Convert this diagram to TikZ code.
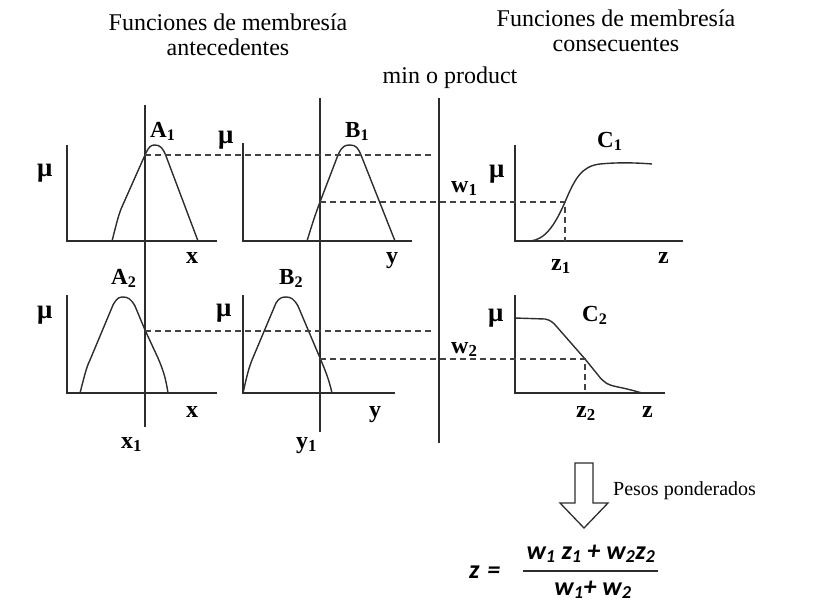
\documentclass[tikz,border=0pt]{standalone}
\usepackage{fontspec}
\setmainfont{Liberation Serif}
\newfontfamily\carl{Carlito}
\definecolor{ln}{RGB}{45,45,45}
\begin{document}
\begin{tikzpicture}[x=1pt,y=-1pt,
  ax/.style={line width=1.4pt, draw=ln},
  crv/.style={line width=1.4pt, draw=ln, line join=round},
  guide/.style={line width=1.4pt, draw=ln},
  dsh/.style={line width=1.3pt, draw=ln!90, dash pattern=on 6pt off 4pt},
  lab/.style={font=\fontsize{23}{25}\selectfont\bfseries, inner sep=0pt, anchor=base west},
  labx/.style={font=\fontsize{24}{26}\selectfont\bfseries, inner sep=0pt, anchor=base west},
  labm/.style={font=\fontsize{27}{29}\selectfont\bfseries, inner sep=0pt, anchor=base west},
  ttl/.style={font=\fontsize{24}{28}\selectfont, inner sep=0pt, anchor=base},
  fm/.style={font=\fontsize{26}{28}\selectfont\carl\bfseries\itshape, inner sep=0pt, anchor=base},
]
\useasboundingbox (0,0) rectangle (821,606);

% titles
\node[ttl] (t1) at (228,30) {Funciones de membresía};
\node[ttl] (t1b) at (228,55) {antecedentes};
\node[ttl] (t2) at (616,26) {Funciones de membresía};
\node[ttl] (t2b) at (616,51) {consecuentes};
\node[ttl] (tmin) at (450,83) {min o product};

% vertical guide lines
\coordinate (x1t) at (145,105); \coordinate (x1b) at (145,427);
\coordinate (y1t) at (320,98);  \coordinate (y1b) at (320,432);
\coordinate (mt) at (439,98);   \coordinate (mb) at (439,443);
\draw[guide] (x1t) -- (x1b);
\draw[guide] (y1t) -- (y1b);
\draw[guide] (mt) -- (mb);

% axes
\coordinate (a1o) at (67,241);
\draw[ax] (67,145) -- (a1o) -- (217,241);
\coordinate (b1o) at (243,241);
\draw[ax] (243,143) -- (b1o) -- (412,241);
\coordinate (a2o) at (67,393);
\draw[ax] (67,295) -- (a2o) -- (217,393);
\coordinate (b2o) at (243,393);
\draw[ax] (243,295) -- (b2o) -- (395,393);
\coordinate (c1o) at (515,241);
\draw[ax] (515,145) -- (c1o) -- (683,241);
\coordinate (c2o) at (515,393);
\draw[ax] (515,295) -- (c2o) -- (665,393);

% membership curves
\draw[crv] (112,241) .. controls (116,226) and (117,220) .. (121,209) -- (145,155)
  .. controls (149,146) and (151,145) .. (155,145) .. controls (160,145) and (163,148) .. (166,156) -- (198,241);
\draw[crv] (307,241) .. controls (311,228) and (315,215) .. (320,202) -- (338,155)
  .. controls (342,146) and (345,145) .. (350,145) .. controls (356,145) and (358,148) .. (361,155) -- (395,241);
\draw[crv] (80,393) .. controls (84,378) and (86,368) .. (90,360) -- (113,305)
  .. controls (117,298) and (119,297) .. (123,297) .. controls (128,297) and (131,299) .. (135,306)
  -- (145,330) -- (158,358) .. controls (164,372) and (166,380) .. (168,393);
\draw[crv] (243,393) .. controls (246,380) and (248,370) .. (252,360) -- (276,303)
  .. controls (279,298) and (282,297) .. (286,297) .. controls (291,297) and (294,299) .. (298,306)
  -- (320,358) .. controls (326,372) and (329,380) .. (332,393);
\draw[crv] (530,241) .. controls (545,240) and (555,225) .. (565,202)
  .. controls (575,178) and (582,166) .. (600,164) .. controls (620,162) and (640,163) .. (652,164);
\draw[crv] (515,318) -- (545,319) .. controls (550,320) and (553,322) .. (557,327) -- (585,359) -- (598,375)
  .. controls (604,383) and (608,385) .. (618,387) .. controls (628,389) and (635,391) .. (642,393);

% dashed projections
\coordinate (pA1) at (145,155); \coordinate (pA1e) at (434,155);
\coordinate (pB1) at (320,202); \coordinate (pC1) at (565,202); \coordinate (z1a) at (565,241);
\coordinate (pA2) at (145,331); \coordinate (pA2e) at (434,331);
\coordinate (pB2) at (320,359); \coordinate (pC2) at (585,359); \coordinate (z2a) at (585,393);
\draw[dsh] (pA1) -- (pA1e);
\draw[dsh] (pB1) -- (pC1) -- (z1a);
\draw[dsh] (pA2) -- (pA2e);
\draw[dsh] (pB2) -- (pC2) -- (z2a);

% labels
\node[lab] (lA1) at (150,137) {A\textsubscript{1}};
\node[lab] (lB1) at (345,137) {B\textsubscript{1}};
\node[labm] (mu1) at (37,176) {μ};
\node[labm] (mu2) at (218,143) {μ};
\node[labx] (lx1) at (186,263) {x};
\node[labx] (ly1) at (386,263) {y};
\node[lab] (lA2) at (111,284) {A\textsubscript{2}};
\node[lab] (lB2) at (279,284) {B\textsubscript{2}};
\node[labm] (mu3) at (37,318) {μ};
\node[labm] (mu4) at (216,316) {μ};
\node[labx] (lx2) at (186,417) {x};
\node[labx] (ly2) at (369,417) {y};
\node[labx] (lx1s) at (121,448) {x\textsubscript{1}};
\node[labx] (ly1s) at (296,448) {y\textsubscript{1}};
\node[lab] (lC1) at (597,147) {C\textsubscript{1}};
\node[labm] (mu5) at (489,177) {μ};
\node[labx] (lw1) at (451,192) {w\textsubscript{1}};
\node[labx] (lz1) at (551,270) {z\textsubscript{1}};
\node[labx] (lz) at (658,263) {z};
\node[lab] (lC2) at (582,321) {C\textsubscript{2}};
\node[labm] (mu6) at (488,321) {μ};
\node[labx] (lw2) at (451,353) {w\textsubscript{2}};
\node[labx] (lz2) at (576,417) {z\textsubscript{2}};
\node[labx] (lzb) at (642,417) {z};

% hollow arrow
\draw[line width=1.3pt, draw=ln, fill=white, line join=miter]
  (575,463) -- (593,463) -- (593,503) -- (608,503) -- (584,528) -- (560,503) -- (575,503) -- cycle;
\node[font=\fontsize{20}{22}\selectfont, inner sep=0pt, anchor=base west] (pp) at (613,495) {Pesos ponderados};

% formula
\node[fm, anchor=base west] (zeq) at (469,578) {z\hspace{0.3em}=};
\node[fm] (num) at (591,559) {w\textsubscript{1} z\textsubscript{1} + w\textsubscript{2}z\textsubscript{2}};
\node[fm] (den) at (593,595) {w\textsubscript{1}+ w\textsubscript{2}};
\coordinate (barl) at (523,571); \coordinate (barr) at (658,571);
\draw[line width=1.2pt, draw=ln] (barl) -- (barr);
\end{tikzpicture}
\end{document}
